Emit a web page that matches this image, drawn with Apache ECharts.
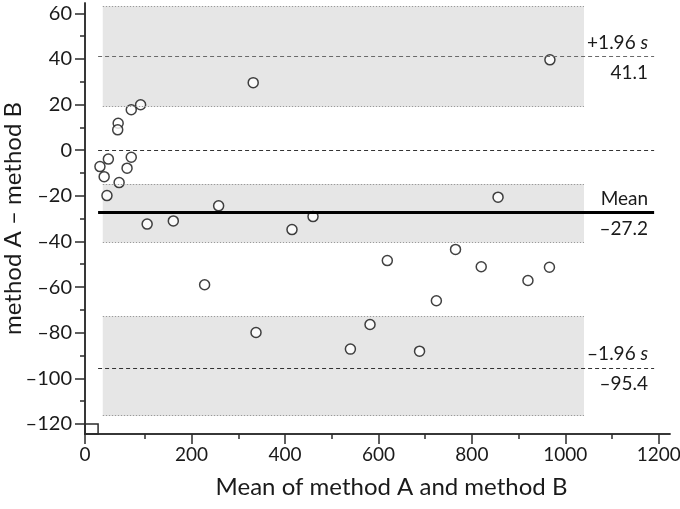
<!DOCTYPE html>
<html>
<head>
<meta charset="utf-8">
<script src="https://cdn.jsdelivr.net/npm/echarts@6/dist/echarts.min.js"></script>
<style>
  html, body { margin: 0; padding: 0; background: #fff; }
  #chart { width: 680px; height: 509px; }
</style>
</head>
<body>
<div id="chart"></div>
<script>
// mean of the two methods (x) and difference A - B (y)
const meanAB = [91, 71, 43, 42, 22, 71, 4, 62, 13, 45, 19, 105, 161, 258, 332,
  228, 338, 415, 460, 540, 582, 619, 688, 724, 765, 820, 856, 920, 966, 967];
const diffAB = [19.9, 17.7, 11.8, 8.9, -3.9, -3.1, -7.2, -7.9, -11.6, -14.2, -19.9, -32.4, -31.0, -24.4, 29.6,
  -59.0, -79.9, -34.8, -29.1, -87.2, -76.4, -48.4, -88.1, -66.0, -43.5, -51.1, -20.6, -57.1, -51.3, 39.6];

const meanDiff = -27.2;
const upperLoA = 41.1;
const lowerLoA = -95.4;
// confidence bands of mean and limits
const upperBand = [19.3, 62.9];
const meanBand = [-40.2, -14.9];
const lowerBand = [-116.3, -73.0];
const bandX = [10, 1040];
const lineX = [0, 1190];

const xMajor = [200, 400, 600, 800, 1000, 1200];
const xMinor = [100, 300, 500, 700, 900, 1100];
const yMajor = [-120, -100, -80, -60, -40, -20, 0, 20, 40, 60];
const yMinor = [-110, -90, -70, -50, -30, -10, 10, 30, 50];

const X_MIN = -28, X_MAX = 1224;
const Y_MIN = -124.4, Y_MAX = 64.5;

const FONT = 'Lato';
const TXT = '#1a1a1a';
const AXIS = '#2b2b2b';
const CLEAR = 'rgba(0,0,0,0)';

const chart = echarts.init(document.getElementById('chart'));

const minus = (v) => String(v).replace('-', '\u2013');

function bandArea(b) {
  return [{ coord: [bandX[0], b[0]] }, { coord: [bandX[1], b[1]] }];
}
function bandEdge(y) {
  return [{ coord: [bandX[0], y] }, { coord: [bandX[1], y] }];
}
function limitLine(y, pos, text, style, dist) {
  return [
    { coord: [lineX[0], y], label: { position: pos, formatter: text, distance: dist }, lineStyle: style },
    { coord: [lineX[1], y] }
  ];
}

const labelStyle = {
  show: true,
  fontFamily: FONT,
  fontSize: 19,
  color: TXT,
  distance: [6, 4],
  rich: { i: { fontFamily: FONT, fontSize: 19, fontStyle: 'italic', color: TXT } }
};

const xBase = {
  type: 'value', min: X_MIN, max: X_MAX, position: 'bottom',
  splitLine: { show: false },
  axisLine: { show: true, onZero: false, lineStyle: { color: AXIS, width: 1.5 } }
};
const yBase = {
  type: 'value', min: Y_MIN, max: Y_MAX, position: 'left',
  splitLine: { show: false },
  axisLine: { show: true, onZero: false, lineStyle: { color: AXIS, width: 1.5 } }
};

const option = {
  animation: false,
  backgroundColor: '#fff',
  grid: { left: 85, right: 10, top: 3, bottom: 75, containLabel: false, outerBoundsMode: 'none' },
  xAxis: [
    Object.assign({}, xBase, {
      name: 'Mean of method A and method B',
      nameLocation: 'middle',
      nameGap: 41,
      nameMoveOverlap: false,
      nameTextStyle: { fontFamily: FONT, fontSize: 24, color: TXT, padding: [0, 0, 0, 28] },
      axisTick: { show: true, length: 10, customValues: [X_MIN].concat(xMajor), lineStyle: { color: AXIS, width: 1.5 } },
      axisLabel: {
        customValues: [X_MIN].concat(xMajor), margin: 11,
        fontFamily: FONT, fontSize: 19, color: TXT,
        formatter: (v) => (v === X_MIN ? '0' : String(v))
      }
    }),
    Object.assign({}, xBase, {
      axisTick: { show: true, length: 5, customValues: xMinor, lineStyle: { color: AXIS, width: 1.5 } },
      axisLabel: { show: false }
    })
  ],
  yAxis: [
    Object.assign({}, yBase, {
      name: 'method A \u2013 method B',
      nameLocation: 'middle',
      nameGap: 60,
      nameMoveOverlap: false,
      nameTextStyle: { fontFamily: FONT, fontSize: 24, color: TXT },
      axisTick: { show: true, length: 10, customValues: yMajor, lineStyle: { color: AXIS, width: 1.5 } },
      axisLabel: {
        customValues: yMajor, margin: 13,
        fontFamily: FONT, fontSize: 20, color: TXT,
        formatter: minus
      }
    }),
    Object.assign({}, yBase, {
      axisTick: { show: true, length: 5, customValues: yMinor, lineStyle: { color: AXIS, width: 1.5 } },
      axisLabel: { show: false }
    })
  ],
  series: [
    {
      // grey confidence bands, dotted edges, origin box
      type: 'line', data: [], z: 1, silent: true,
      markArea: {
        silent: true,
        itemStyle: { color: '#e6e6e6' },
        data: [
          bandArea(upperBand), bandArea(meanBand), bandArea(lowerBand),
          [{ coord: [X_MIN, Y_MIN], itemStyle: { color: CLEAR, borderColor: AXIS, borderWidth: 1.5 } },
           { coord: [0, -120] }]
        ]
      },
      markLine: {
        silent: true, symbol: 'none', label: { show: false },
        lineStyle: { color: '#9a9a9a', type: [1.5, 1.5], width: 1 },
        data: [
          bandEdge(upperBand[0]), bandEdge(upperBand[1]),
          bandEdge(meanBand[0]), bandEdge(meanBand[1]),
          bandEdge(lowerBand[0]), bandEdge(lowerBand[1])
        ]
      }
    },
    {
      // zero line, limits of agreement and mean difference
      type: 'line', data: [], z: 2, silent: true,
      markLine: {
        silent: true, symbol: 'none',
        label: labelStyle,
        lineStyle: { color: '#333', type: [4, 3], width: 1.2 },
        data: [
          [{ coord: [lineX[0], 0], label: { show: false } }, { coord: [lineX[1], 0] }],
          limitLine(upperLoA, 'insideEndTop', '+1.96 {i|s}', { color: '#6a6a6a' }, [6, 4]),
          limitLine(upperLoA, 'insideEndBottom', minus(upperLoA), { color: CLEAR }, [6, 7]),
          limitLine(lowerLoA, 'insideEndTop', '\u20131.96 {i|s}', {}, [6, 4]),
          limitLine(lowerLoA, 'insideEndBottom', minus(lowerLoA), { color: CLEAR }, [6, 7]),
          limitLine(meanDiff, 'insideEndTop', 'Mean', { type: 'solid', width: 3, color: '#000' }, [6, 4]),
          limitLine(meanDiff, 'insideEndBottom', minus(meanDiff), { color: CLEAR }, [6, 7])
        ]
      }
    },
    {
      type: 'scatter', z: 3,
      data: meanAB.map((x, i) => [x, diffAB[i]]),
      symbol: 'circle', symbolSize: 10,
      itemStyle: { color: '#fff', borderColor: '#111', borderWidth: 1.5 }
    }
  ]
};

chart.setOption(option);
</script>
</body>
</html>
